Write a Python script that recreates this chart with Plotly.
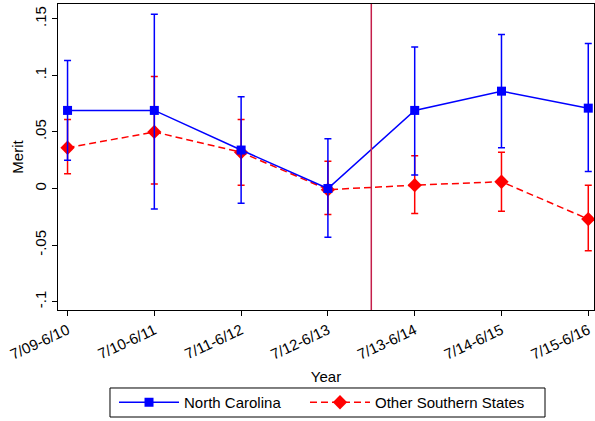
import plotly.graph_objects as go

years = ["7/09-6/10", "7/10-6/11", "7/11-6/12", "7/12-6/13", "7/13-6/14", "7/14-6/15", "7/15-6/16"]
nc_est = [0.069, 0.069, 0.034, 0.000, 0.069, 0.086, 0.071]
nc_hi = [0.113, 0.154, 0.081, 0.044, 0.125, 0.136, 0.128]
nc_lo = [0.025, -0.018, -0.013, -0.043, 0.012, 0.036, 0.015]
os_est = [0.036, 0.050, 0.032, -0.001, 0.003, 0.006, -0.027]
os_hi = [0.061, 0.099, 0.061, 0.024, 0.029, 0.032, 0.003]
os_lo = [0.013, 0.004, 0.003, -0.023, -0.022, -0.020, -0.055]
ytick_vals = [-0.1, -0.05, 0, 0.05, 0.1, 0.15]
ytick_text = ["-.1", "-.05", "0", ".05", ".1", ".15"]
break_pos = 3.5

xi = list(range(len(years)))

def err(est, hi, lo):
    return dict(type="data", symmetric=False,
                array=[h - e for h, e in zip(hi, est)],
                arrayminus=[e - l for e, l in zip(est, lo)])

fig = go.Figure()
fig.add_trace(go.Scatter(
    x=xi, y=os_est, name="Other Southern States", mode="lines+markers", legend="legend2",
    line=dict(color="#ff0000", width=1.5, dash="7px,4px"),
    marker=dict(symbol="diamond", size=11, color="#ff0000"),
    error_y=dict(**err(os_est, os_hi, os_lo), color="#ff0000", thickness=1.5, width=3.5),
))
fig.add_trace(go.Scatter(
    x=xi, y=nc_est, name="North Carolina", mode="lines+markers", legend="legend",
    line=dict(color="#0000ff", width=1.5),
    marker=dict(symbol="square", size=9, color="#0000ff"),
    error_y=dict(**err(nc_est, nc_hi, nc_lo), color="#0000ff", thickness=1.5, width=3.5),
))

fig.add_shape(type="line", x0=break_pos, x1=break_pos, xref="x", y0=0, y1=1, yref="paper",
              line=dict(color="#c41e4a", width=1.5))
# legend frame
fig.add_shape(type="rect", xref="paper", yref="paper", x0=0.0970, x1=0.9086, y0=-0.3497, y1=-0.2549,
              line=dict(color="black", width=1), fillcolor="rgba(0,0,0,0)")

leg_common = dict(orientation="h", yanchor="middle", y=-0.3023, xanchor="left",
                  borderwidth=0, bgcolor="rgba(0,0,0,0)", font=dict(size=15), itemwidth=60)

fig.update_layout(
    width=595, height=421,
    margin=dict(l=58, r=1, t=4, b=111),
    plot_bgcolor="white", paper_bgcolor="white",
    font=dict(family="Liberation Sans, Arial", size=15, color="black"),
    showlegend=True,
    legend=dict(x=0.1045, **leg_common),
    legend2=dict(x=0.4608, **leg_common),
    xaxis=dict(range=[-0.11, 6.066], tickmode="array", tickvals=xi, ticktext=years,
               tickangle=-25, ticks="outside", ticklen=5, tickcolor="black",
               showline=True, linecolor="black", linewidth=1, mirror=True,
               showgrid=False, zeroline=False, tickfont=dict(size=15),
               title=dict(text="Year", font=dict(size=15), standoff=9)),
    yaxis=dict(range=[-0.1073, 0.163], tickmode="array", tickvals=ytick_vals, ticktext=ytick_text,
               tickangle=-90, ticks="outside", ticklen=5, tickcolor="black",
               showline=True, linecolor="black", linewidth=1, mirror=True,
               showgrid=False, zeroline=False, tickfont=dict(size=15),
               title=dict(text="Merit", font=dict(size=15), standoff=4)),
)

fig.write_html("out.html")
